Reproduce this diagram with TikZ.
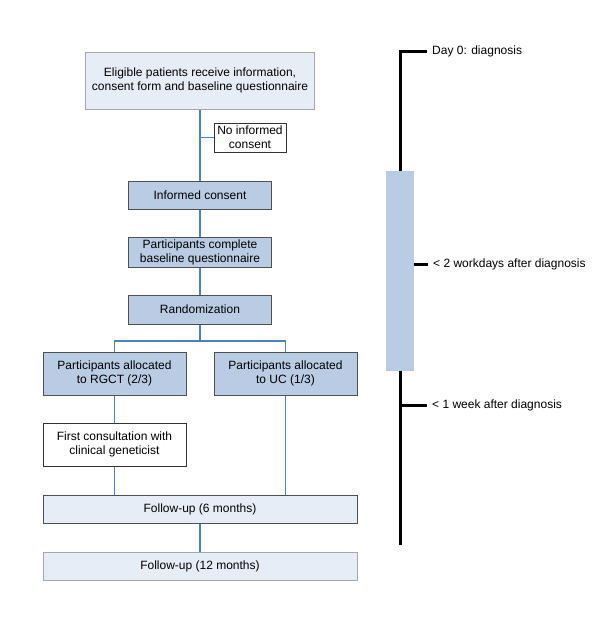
\documentclass[tikz,border=0pt]{standalone}
\usepackage{fontspec}
\setmainfont{Liberation Sans}
\usepackage{xcolor}
\usepackage{tikz}

\definecolor{lightfill}{HTML}{E7EDF7}
\definecolor{midfill}{HTML}{B9CCE4}
\definecolor{linkblue}{HTML}{4F81BD}
\definecolor{greyline}{HTML}{A6A6A6}
\definecolor{darkline}{HTML}{505050}

\begin{document}
\begin{tikzpicture}[
    x=1pt, y=-1pt,
    font=\fontsize{12}{14}\selectfont,
    box/.style={rectangle, draw, line width=1pt, align=center, inner sep=2pt},
    paler/.style={box, fill=lightfill, draw=greyline},
    darker/.style={box, fill=midfill, draw=darkline},
    plain/.style={box, fill=white, draw=black!80},
    link/.style={draw=linkblue, line width=1.5pt},
    timeline/.style={line width=3pt, black},
    stamp/.style={anchor=west, inner xsep=5pt, inner ysep=0pt}
]
    \useasboundingbox (0,0) rectangle (600,627);

    % Flow chart
    \node[paler, minimum width=229pt, minimum height=57pt] (elig) at (200, 80.5)
        {Eligible patients receive information,\\consent form and baseline questionnaire};
    \node[plain, minimum width=72pt, minimum height=29pt, inner sep=1pt] (noic) at (250, 137.5)
        {No informed\\consent};
    \node[darker, minimum width=143pt, minimum height=28pt] (ic) at (200, 195) {Informed consent};
    \node[darker, minimum width=143pt, minimum height=29pt] (base) at (200, 252.5)
        {Participants complete\\baseline questionnaire};
    \node[darker, minimum width=143pt, minimum height=29pt] (rand) at (200, 309.5) {Randomization};
    \node[darker, minimum width=143pt, minimum height=43pt] (rgct) at (114.5, 373.5)
        {Participants allocated\\to RGCT (2/3)};
    \node[darker, minimum width=143pt, minimum height=43pt] (uc) at (285.5, 373.5)
        {Participants allocated\\to UC (1/3)};
    \node[plain, minimum width=143pt, minimum height=43pt] (first) at (114.5, 444.5)
        {First consultation with\\clinical geneticist};
    \node[paler, draw=darkline, minimum width=314pt, minimum height=28pt] (fu6) at (200, 509)
        {Follow-up (6 months)};
    \node[paler, minimum width=314pt, minimum height=28pt] (fu12) at (200, 566)
        {Follow-up (12 months)};
    \coordinate (split) at (200, 341);

    % Connectors
    \draw[link] (elig) -- (ic);
    \draw[link] (elig.south |- noic.west) -- (noic.west);
    \draw[link] (ic) -- (base);
    \draw[link] (base) -- (rand);
    \draw[link] (rand) -- (split);
    \draw[link] (rgct.north) |- (split) -| (uc.north);
    \draw[link] (rgct) -- (first);
    \draw[link] (first.south) -- (first.south |- fu6.north);
    \draw[link] (uc.south) -- (uc.south |- fu6.north);
    \draw[link] (fu6) -- (fu12);

    % Time line
    \coordinate (top) at (400, 51);
    \coordinate (bottom) at (400, 545);
    \node[stamp] (day0) at (427, 51) {Day 0: diagnosis};
    \node[stamp] (days2) at (428, 264) {< 2 workdays after diagnosis};
    \node[stamp] (week1) at (427, 405) {< 1 week after diagnosis};
    \draw[timeline] (bottom) -- (top) -- (day0.west);
    \node[rectangle, fill=midfill, minimum width=28pt, minimum height=200pt, inner sep=0pt] (bar) at (400, 271) {};
    \draw[timeline] (bar.east |- days2.west) -- (days2.west);
    \draw[timeline] (top |- week1.west) -- (week1.west);
\end{tikzpicture}
\end{document}
